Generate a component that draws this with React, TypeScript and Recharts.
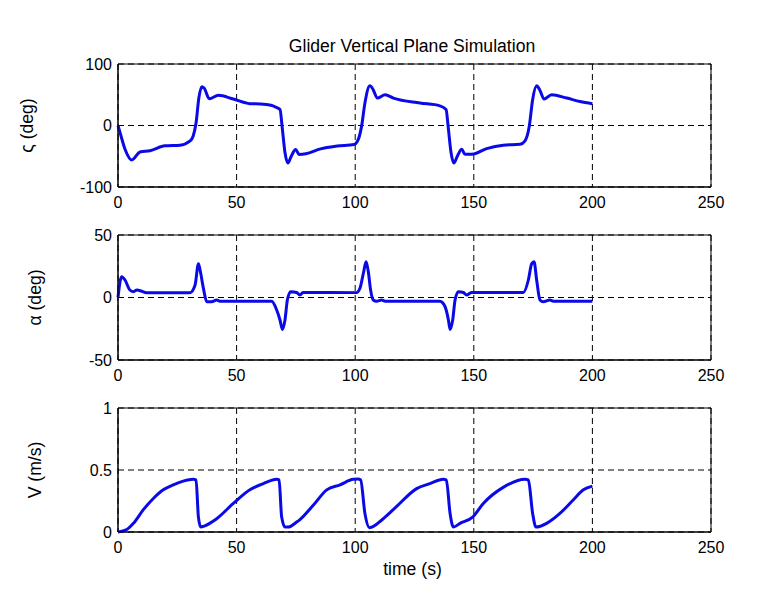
import React from 'react';
import {
  LineChart,
  Line,
  XAxis,
  YAxis,
  CartesianGrid,
  ReferenceArea,
} from 'recharts';

// time axis shared by all three panels
const timeTicks = [0, 50, 100, 150, 200, 250];

// pitch angle (deg)
const pitchTime = [0, 0.9, 3, 5.8, 9.3, 13.5, 19.8, 26.1, 30.4, 31.7, 32.9, 34.1, 35.3, 36.3, 38.5, 42.3, 48.6, 55.6, 60, 64.5, 66.5, 68.3, 69.3, 70.4, 71.6, 73.1, 74.9, 76.3, 79.2, 85.4, 92.4, 99.5, 101.3, 102.7, 104.1, 106.2, 107.6, 109.3, 112.6, 116.1, 127.3, 135.7, 138.3, 139.3, 140.4, 141.6, 143.1, 144.9, 146.3, 149.2, 155.4, 162.4, 169.5, 171.6, 173.4, 174.8, 176.5, 177.9, 179.6, 182.8, 189.2, 194.8, 200];
const pitchDeg = [0, -12, -39, -56, -43, -41, -33, -32, -25, -17, 4, 45, 63, 61, 43.5, 49, 43, 35.5, 35, 33, 30, 26, -6, -44, -61, -49.5, -39, -47, -46, -38, -33.5, -31, -22.6, -1, 36.6, 64.5, 58, 44.6, 50, 44.6, 36.6, 32, 26, -6, -44, -61, -49.5, -38.7, -46.8, -46.8, -37.6, -32, -30.6, -25, -1, 42, 64.5, 57, 43, 50, 44.6, 39, 35.5];

// angle of attack (deg)
const alphaTime = [0, 1.5, 2.95, 5, 6.5, 8, 10, 12, 30.4, 32.5, 33.9, 34.6, 36, 37.4, 39.5, 41.6, 43, 64.8, 66.9, 68.3, 69.3, 70.4, 71.4, 72.8, 75.3, 76.7, 78, 100.5, 102, 103.4, 104.6, 105.5, 106.5, 107.6, 109, 111.2, 112.6, 135.7, 137.9, 139.3, 140, 141.1, 142.1, 143.5, 145.6, 147, 149, 170.9, 173, 174.4, 175.4, 176.5, 177.9, 179.3, 182.1, 183.5, 200];
const alphaDeg = [0, 16.6, 14, 6, 4.7, 6, 5, 3.9, 3.9, 10, 27, 22, 7.4, -3.4, -3.4, -2, -3, -3, -10, -18, -25.5, -18, -2, 4.7, 4, 2, 4, 3.9, 7.4, 19, 28.6, 21, 6, -2, -3, -2, -3, -3, -7.4, -18, -25.5, -18, -2, 4.7, 4, 2, 4, 4, 14, 27, 28.6, 14, -2, -3.4, -2, -3, -3];

// speed (m/s)
const velTime = [0, 3.7, 6.5, 10.7, 14.9, 19.1, 23.3, 27.5, 31.7, 32.9, 33.9, 34.9, 36.6, 41.6, 48.6, 55.6, 61.3, 66.9, 67.9, 69, 70.4, 71.8, 75.3, 76.7, 82.3, 88, 93.6, 99.2, 101.3, 102.3, 104.1, 106, 111.8, 117.5, 125.9, 131.5, 137.1, 138.4, 140, 141.4, 144.2, 149.5, 154, 162.4, 171.6, 173, 174.8, 176.2, 180.7, 186.3, 192, 196.2, 200];
const velMs = [0, 0.02, 0.07, 0.18, 0.27, 0.34, 0.38, 0.41, 0.425, 0.42, 0.12, 0.04, 0.05, 0.107, 0.23, 0.34, 0.39, 0.425, 0.42, 0.12, 0.04, 0.04, 0.08, 0.1, 0.215, 0.34, 0.38, 0.425, 0.427, 0.42, 0.15, 0.035, 0.107, 0.207, 0.35, 0.39, 0.425, 0.42, 0.15, 0.04, 0.07, 0.12, 0.23, 0.36, 0.425, 0.42, 0.15, 0.04, 0.07, 0.15, 0.26, 0.34, 0.37];

const FONT = '"Liberation Sans", Arial, Helvetica, sans-serif';
const BLUE = '#0a0ae6';
const tickStyle = { fill: '#000', fontSize: 16, fontFamily: FONT };

const zip = (ts: number[], vs: number[]) => ts.map((t, i) => ({ t, v: vs[i] }));

type PanelProps = {
  rows: { t: number; v: number }[];
  yDomain: [number, number];
  yTicks: number[];
  yLabel: string;
  labelX: number;
  top: number;
  marginTop: number;
  plotHeight: number;
  marginBottom: number;
  extra?: (p: any) => React.ReactNode;
};

const Panel = ({ rows, yDomain, yTicks, yLabel, labelX, top, marginTop, plotHeight, marginBottom, extra }: PanelProps) => {
  const height = marginTop + plotHeight + 30 + marginBottom;
  const midY = marginTop + plotHeight / 2;
  return (
    <div style={{ position: 'absolute', left: 0, top, width: 763, height }}>
      <LineChart width={763} height={height} data={rows} margin={{ top: marginTop, right: 52, bottom: marginBottom, left: 0 }}>
        <CartesianGrid stroke="#000" strokeDasharray="6 4" strokeWidth={1} />
        <XAxis
          type="number"
          dataKey="t"
          domain={[0, 250]}
          ticks={timeTicks}
          interval={0}
          height={30}
          tickSize={6}
          tickMargin={4}
          tickLine={false}
          axisLine={{ stroke: '#000' }}
          tick={tickStyle}
          label={extra ? { content: extra } : undefined}
        />
        <YAxis
          type="number"
          domain={yDomain}
          ticks={yTicks}
          interval={0}
          width={118}
          tickSize={6}
          tickMargin={0}
          tickLine={false}
          axisLine={{ stroke: '#000' }}
          tick={tickStyle}
          label={{
            content: () => (
              <text
                x={labelX}
                y={midY}
                transform={`rotate(-90, ${labelX}, ${midY})`}
                textAnchor="middle"
                dominantBaseline="central"
                fontFamily={FONT}
                fontSize={17.6}
                fill="#000"
              >
                {yLabel}
              </text>
            ),
          }}
        />
        <ReferenceArea x1={0} x2={250} y1={yDomain[0]} y2={yDomain[1]} fill="none" fillOpacity={0} stroke="#000" strokeWidth={1} />
        <Line dataKey="v" type="monotone" stroke={BLUE} strokeWidth={3} strokeLinejoin="round" dot={false} isAnimationActive={false} />
      </LineChart>
    </div>
  );
};

export default function App() {
  return (
    <div style={{ position: 'absolute', left: 0, top: 0, width: 763, height: 592, background: '#fff' }}>
      <Panel
        rows={zip(pitchTime, pitchDeg)}
        yDomain={[-100, 100]}
        yTicks={[-100, 0, 100]}
        yLabel="ς (deg)"
        labelX={27}
        top={0}
        marginTop={64}
        plotHeight={123}
        marginBottom={0}
        extra={() => (
          <text x={412} y={52} textAnchor="middle" fontFamily={FONT} fontSize={17.6} fill="#000">
            Glider Vertical Plane Simulation
          </text>
        )}
      />
      <Panel
        rows={zip(alphaTime, alphaDeg)}
        yDomain={[-50, 50]}
        yTicks={[-50, 0, 50]}
        yLabel="α (deg)"
        labelX={35}
        top={225}
        marginTop={10}
        plotHeight={125}
        marginBottom={0}
      />
      <Panel
        rows={zip(velTime, velMs)}
        yDomain={[0, 1]}
        yTicks={[0, 0.5, 1]}
        yLabel="V (m/s)"
        labelX={35}
        top={398}
        marginTop={10}
        plotHeight={124}
        marginBottom={28}
        extra={() => (
          <text x={412.5} y={177} textAnchor="middle" fontFamily={FONT} fontSize={17.6} fill="#000">
            time (s)
          </text>
        )}
      />
    </div>
  );
}
